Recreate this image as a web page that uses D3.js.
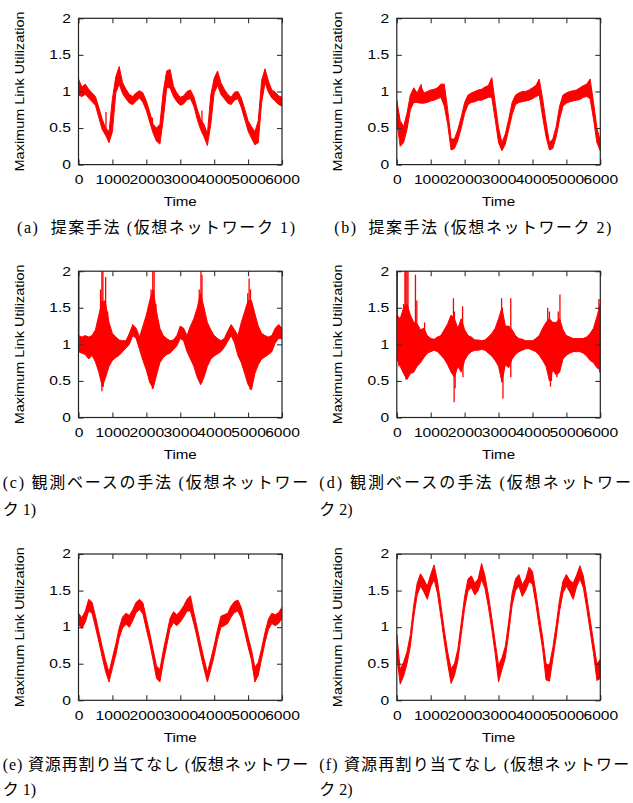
<!DOCTYPE html>
<html>
<head>
<meta charset="utf-8">
<script src="https://cdnjs.cloudflare.com/ajax/libs/d3/7.8.5/d3.min.js"></script>
<style>
body { margin: 0; background: #fff; }
</style>
</head>
<body>
<svg id="fig" width="633" height="803"></svg>
<script>
// sampling grid of the traces (time units)
var times = d3.range(0, 6001, 100)
var xTicks = [0, 1000, 2000, 3000, 4000, 5000, 6000]
var xTickLabels = ['0', '1000', '2000', '3000', '4000', '5000', '6000']
var yTicks = [0, 0.5, 1, 1.5, 2]
var yTickLabels = ['0', '0.5', '1', '1.5', '2']

var hiA = [1.17,1.06,1.10,1.03,0.98,0.93,0.78,0.62,0.50,0.45, 0.90,1.20,1.34,1.12,1.03,0.96,0.93,0.98,1.01,0.98, 0.87,0.72,0.55,0.50,0.55,1.00,1.28,1.30,1.07,0.98, 0.92,0.94,1.00,1.02,0.93,0.76,0.62,0.55,0.42,0.95, 1.18,1.28,1.12,1.03,0.96,0.92,0.99,1.00,0.91,0.76, 0.60,0.52,0.45,0.60,1.15,1.31,1.14,1.02,0.99,0.94, 0.92]
var loA = [0.95,0.93,0.96,0.91,0.86,0.81,0.64,0.48,0.40,0.30, 0.45,0.98,1.10,0.97,0.90,0.84,0.82,0.87,0.91,0.85, 0.74,0.58,0.43,0.32,0.28,0.62,1.05,1.05,0.93,0.86, 0.81,0.83,0.89,0.90,0.80,0.62,0.48,0.38,0.26,0.55, 0.98,1.08,0.96,0.90,0.84,0.82,0.88,0.90,0.78,0.62, 0.46,0.36,0.27,0.30,0.85,1.12,0.99,0.91,0.87,0.82, 0.80]

var hiB = [0.88,0.60,0.52,0.70,0.95,1.05,0.98,1.08,0.98,1.00, 1.02,1.03,1.05,1.10,1.10,0.75,0.35,0.35,0.48,0.65, 0.85,0.95,0.98,1.00,1.02,1.03,1.06,1.08,1.19,0.85, 0.50,0.30,0.42,0.62,0.85,0.95,0.98,1.00,1.00,1.02, 1.05,1.08,1.17,0.90,0.58,0.30,0.35,0.52,0.80,0.95, 0.98,1.00,1.01,1.02,1.05,1.08,1.10,1.17,0.85,0.50, 0.32]
var loB = [0.60,0.25,0.30,0.48,0.75,0.85,0.85,0.84,0.84,0.85, 0.87,0.88,0.90,0.92,0.80,0.55,0.20,0.22,0.33,0.50, 0.70,0.82,0.85,0.86,0.88,0.88,0.90,0.92,0.92,0.62, 0.30,0.19,0.28,0.48,0.68,0.82,0.85,0.86,0.87,0.88, 0.90,0.93,0.95,0.65,0.38,0.20,0.22,0.38,0.62,0.80, 0.84,0.86,0.87,0.88,0.89,0.92,0.93,0.90,0.62,0.30, 0.19]

var hiC = [1.12,1.10,1.12,1.10,1.12,1.20,1.40,1.60,1.55,1.30, 1.15,1.10,1.06,1.05,1.05,1.15,1.27,1.22,1.10,1.25, 1.40,1.60,1.75,1.45,1.22,1.12,1.08,1.05,1.06,1.12, 1.25,1.22,1.12,1.25,1.35,1.50,1.70,1.50,1.30,1.20, 1.12,1.08,1.05,1.08,1.18,1.27,1.20,1.12,1.30,1.45, 1.60,1.60,1.42,1.25,1.15,1.12,1.10,1.12,1.22,1.27, 1.22]
var loC = [0.90,0.88,0.86,0.80,0.85,0.76,0.62,0.42,0.55,0.70, 0.78,0.82,0.85,0.90,0.95,1.00,1.12,1.08,0.93,0.78, 0.65,0.48,0.40,0.58,0.75,0.82,0.86,0.88,0.93,0.98, 1.08,1.05,0.90,0.80,0.70,0.55,0.45,0.55,0.70,0.80, 0.84,0.87,0.90,0.96,1.04,1.12,1.02,0.85,0.75,0.60, 0.45,0.38,0.60,0.72,0.80,0.83,0.86,0.90,1.02,1.08, 1.08]

var hiD = [1.40,1.35,1.50,1.55,1.40,1.30,1.28,1.20,1.22,1.12, 1.08,1.07,1.10,1.12,1.20,1.28,1.40,1.35,1.22,1.35, 1.20,1.12,1.10,1.06,1.06,1.05,1.06,1.10,1.15,1.22, 1.35,1.50,1.25,1.25,1.20,1.12,1.08,1.07,1.05,1.05, 1.05,1.08,1.12,1.22,1.30,1.35,1.30,1.30,1.35,1.20, 1.12,1.10,1.08,1.08,1.08,1.08,1.10,1.15,1.22,1.38, 1.55]
var loD = [0.80,0.70,0.60,0.52,0.60,0.62,0.70,0.75,0.82,0.88, 0.90,0.92,0.90,0.85,0.80,0.72,0.62,0.55,0.70,0.62, 0.78,0.86,0.90,0.92,0.92,0.93,0.92,0.88,0.84,0.78, 0.70,0.48,0.72,0.68,0.80,0.86,0.90,0.92,0.94,0.94, 0.92,0.90,0.85,0.78,0.70,0.50,0.65,0.58,0.62,0.80, 0.85,0.88,0.90,0.90,0.90,0.88,0.84,0.78,0.75,0.68, 0.65]

var hiE = [1.19,1.13,1.22,1.38,1.34,1.15,0.94,0.73,0.54,0.38, 0.58,0.77,0.99,1.14,1.19,1.16,1.24,1.34,1.38,1.33, 1.12,0.92,0.69,0.47,0.42,0.68,0.90,1.12,1.21,1.17, 1.22,1.29,1.38,1.43,1.20,0.99,0.77,0.57,0.38,0.56, 0.75,0.97,1.15,1.17,1.19,1.29,1.35,1.37,1.27,1.07, 0.87,0.69,0.45,0.52,0.71,0.93,1.11,1.19,1.17,1.20, 1.27]
var loE = [1.04,0.98,1.07,1.22,1.19,1.00,0.80,0.59,0.39,0.25, 0.44,0.62,0.85,0.99,1.04,1.00,1.09,1.20,1.24,1.18, 0.97,0.78,0.55,0.30,0.25,0.52,0.75,0.98,1.06,1.02, 1.07,1.14,1.22,1.22,1.05,0.85,0.63,0.43,0.25,0.42, 0.61,0.83,1.00,1.02,1.05,1.14,1.20,1.22,1.12,0.93, 0.73,0.55,0.25,0.34,0.57,0.79,0.97,1.05,1.02,1.05, 1.12]

var hiF = [0.90,0.42,0.52,0.66,0.90,1.30,1.60,1.73,1.65,1.56, 1.72,1.85,1.63,1.30,0.96,0.66,0.43,0.50,0.70,1.06, 1.42,1.66,1.70,1.60,1.66,1.87,1.70,1.44,1.13,0.80, 0.48,0.58,0.74,1.08,1.46,1.66,1.72,1.58,1.66,1.82, 1.76,1.48,1.16,0.86,0.50,0.48,0.72,1.03,1.38,1.63, 1.72,1.64,1.60,1.71,1.84,1.70,1.42,1.11,0.80,0.50, 0.56]
var loF = [0.62,0.22,0.33,0.50,0.74,1.14,1.44,1.56,1.48,1.38, 1.55,1.65,1.46,1.14,0.80,0.50,0.23,0.34,0.54,0.90, 1.26,1.50,1.54,1.44,1.50,1.65,1.53,1.28,0.97,0.64, 0.25,0.42,0.58,0.92,1.30,1.50,1.56,1.42,1.50,1.62, 1.59,1.32,1.00,0.70,0.28,0.26,0.56,0.87,1.22,1.47, 1.56,1.48,1.38,1.55,1.66,1.54,1.26,0.95,0.64,0.27, 0.30]

// narrow spikes: [time, from, to]
var spikesA = [[810, 0.45, 0.72], [2180, 0.5, 0.64], [3640, 0.55, 0.74]]
var spikesB = [[720, 0.95, 1.10]]
var spikesC = [[10,1,2.05],[650,1,1.75],[690,1,2.05],[720,1,2.05],[770,1,1.6],[800,1,1.92],[860,1,1.45],
  [2140,1,1.75],[2190,1,2.05],[2230,1,2.05],[2280,1,1.55],[3560,1,1.75],[3610,1,2.05],[3640,1,1.95],[3700,1,1.5],
  [4990,1,1.7],[5030,1,1.9],[5070,1,1.75],[5150,1,1.5],
  [690,1,0.36],[730,1,0.42],[2180,1,0.39],[2230,1,0.45],[3600,1,0.45],[3640,1,0.48],[5060,1,0.38],[5100,1,0.45]]
var spikesD = [[15,1,2.05],[200,1,1.55],[240,1,2.05],[265,1,2.05],[300,1,2.05],[330,1,2.05],[550,1,1.95],[590,1,1.6],
  [820,1,1.3],[1670,1,1.63],[1700,1,1.45],[1940,1,1.52],[3090,1,1.63],[3110,1,1.5],[3360,1,1.63],[4450,1,1.5],
  [4500,1,1.45],[4760,1,1.45],[4810,1,1.68],[5960,1,1.62],
  [60,1,0.7],[270,1,0.52],[400,1,0.6],[1690,1,0.21],[1720,1,0.4],[1950,1,0.55],[3130,1,0.26],[3360,1,0.55],
  [4530,1,0.42],[4560,1,0.5],[4720,1,0.55],[5980,1,0.62]]

var captions = [
  ['(a)\u00a0\u00a0提案手法 (仮想ネットワーク 1)'],
  ['(b)\u00a0\u00a0提案手法 (仮想ネットワーク 2)'],
  ['(c) 観測ベースの手法 (仮想ネットワー', 'ク 1)'],
  ['(d) 観測ベースの手法 (仮想ネットワー', 'ク 2)'],
  ['(e) 資源再割り当てなし (仮想ネットワー', 'ク 1)'],
  ['(f) 資源再割り当てなし (仮想ネットワー', 'ク 2)']
]

var plotW = 203.5, plotH = 146.3
var panels = [
  {hi: hiA, lo: loA, spikes: spikesA, left: 78.5, top: 18.3, cap: captions[0], capX: 17, capW: [278], capY: [233]},
  {hi: hiB, lo: loB, spikes: spikesB, left: 396.8, top: 18.3, cap: captions[1], capX: 334.3, capW: [277], capY: [233]},
  {hi: hiC, lo: loC, spikes: spikesC, left: 78.5, top: 271.2, cap: captions[2], capX: 2.7, capW: [305.6, 0], capY: [488, 514.5]},
  {hi: hiD, lo: loD, spikes: spikesD, left: 396.8, top: 271.2, cap: captions[3], capX: 319.3, capW: [311.7, 0], capY: [488, 514.5]},
  {hi: hiE, lo: loE, spikes: [], left: 78.5, top: 554, cap: captions[4], capX: 2.7, capW: [305.6, 0], capY: [770, 795]},
  {hi: hiF, lo: loF, spikes: [], left: 396.8, top: 554, cap: captions[5], capX: 319.3, capW: [310, 0], capY: [770, 795]}
]

var svg = d3.select('#fig')
var sans = '"Liberation Sans", Arial, sans-serif'

function stretch(sel, k){
  sel.each(function(){
    var w = this.getComputedTextLength()
    d3.select(this).attr('textLength', w * k).attr('lengthAdjust', 'spacingAndGlyphs')
  })
}

panels.forEach(function(p, i){
  var x = d3.scaleLinear().domain([0, 6000]).range([0, plotW])
  var y = d3.scaleLinear().domain([0, 2]).range([plotH, 0])
  var g = svg.append('g').attr('transform', 'translate(' + p.left + ',' + p.top + ')')

  g.append('clipPath').attr('id', 'clip' + i)
    .append('rect').attr('width', plotW).attr('height', plotH)

  var plot = g.append('g').attr('clip-path', 'url(#clip' + i + ')')

  var area = d3.area()
    .x(function(d, j){ return x(times[j]) })
    .y0(function(d, j){ return y(p.lo[j]) })
    .y1(function(d){ return y(d) })

  plot.append('path')
    .attr('d', area(p.hi))
    .attr('fill', '#ff0000')
    .attr('stroke', '#ff0000')
    .attr('stroke-width', 1)
    .attr('stroke-linejoin', 'round')

  plot.selectAll('line.spike').data(p.spikes).enter().append('line')
    .attr('class', 'spike')
    .attr('x1', function(d){ return x(d[0]) })
    .attr('x2', function(d){ return x(d[0]) })
    .attr('y1', function(d){ return y(d[1]) })
    .attr('y2', function(d){ return y(d[2]) })
    .attr('stroke', '#ff0000')
    .attr('stroke-width', 1.3)

  // axes: ticks pointing inwards on all four sides
  var bottom = g.append('g').attr('transform', 'translate(0,' + plotH + ')')
    .call(d3.axisBottom(x).tickValues(xTicks).tickSizeInner(-5).tickSizeOuter(0).tickPadding(11)
      .tickFormat(function(d, j){ return xTickLabels[j] }))
  var top = g.append('g')
    .call(d3.axisTop(x).tickValues(xTicks).tickSizeInner(-5).tickSizeOuter(0).tickFormat(''))
  var left = g.append('g')
    .call(d3.axisLeft(y).tickValues(yTicks).tickSizeInner(-5).tickSizeOuter(0).tickPadding(7.5)
      .tickFormat(function(d, j){ return yTickLabels[j] }))
  var right = g.append('g').attr('transform', 'translate(' + plotW + ',0)')
    .call(d3.axisRight(y).tickValues(yTicks).tickSizeInner(-5).tickSizeOuter(0).tickFormat(''))

  ;[bottom, top, left, right].forEach(function(a){
    a.select('.domain').remove()
    a.attr('color', '#000').attr('font-family', sans).attr('font-size', 12)
    a.selectAll('.tick line').attr('stroke', '#333').attr('stroke-width', 1.1)
  })
  stretch(bottom.selectAll('.tick text'), 1.3)
  stretch(left.selectAll('.tick text'), 1.3)

  g.append('rect')
    .attr('width', plotW).attr('height', plotH)
    .attr('fill', 'none').attr('stroke', '#222').attr('stroke-width', 1.2)

  g.append('text')
    .attr('transform', 'translate(-54.6,' + plotH / 2 + ') rotate(-90)')
    .attr('text-anchor', 'middle')
    .attr('font-family', sans).attr('font-size', 12.5)
    .attr('textLength', 160).attr('lengthAdjust', 'spacingAndGlyphs')
    .text('Maximum Link Utilization')

  g.append('text')
    .attr('x', plotW / 2).attr('y', plotH + 41.5)
    .attr('text-anchor', 'middle')
    .attr('font-family', sans).attr('font-size', 13)
    .attr('textLength', 33).attr('lengthAdjust', 'spacingAndGlyphs')
    .text('Time')

  p.cap.forEach(function(line, k){
    var t = svg.append('text')
      .attr('x', p.capX).attr('y', p.capY[k])
      .attr('font-family', '"Liberation Serif", "Noto Sans CJK JP", serif')
      .attr('font-size', 16)
      .text(line)
    if (p.capW[k]) t.attr('textLength', p.capW[k]).attr('lengthAdjust', 'spacing')
  })
})
</script>
</body>
</html>
